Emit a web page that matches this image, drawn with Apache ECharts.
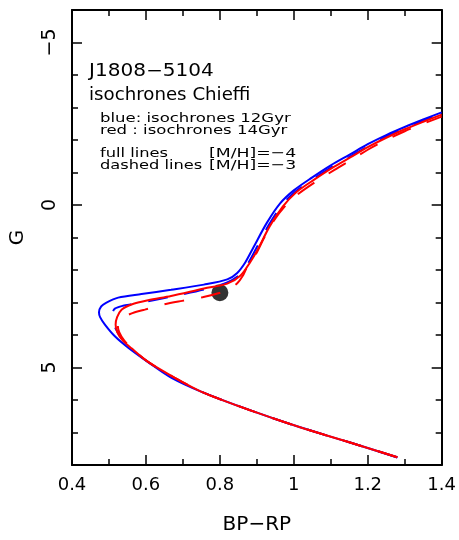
<!DOCTYPE html>
<html><head><meta charset="utf-8">
<script src="https://cdn.jsdelivr.net/npm/echarts@6/dist/echarts.min.js"></script>
<style>html,body{margin:0;padding:0;background:#fff}#c{width:459px;height:540px}</style>
</head><body><div id="c"></div>
<script>
// ---- data: [BP-RP, G] ----
const blueSolid = [[1.28,7.77],[1.15,7.30],[1.017,6.84],[0.883,6.32],[0.749,5.74],[0.668,5.31],[0.614,4.90],[0.552,4.39],[0.516,4.04],[0.489,3.68],[0.476,3.45],[0.473,3.30],[0.479,3.12],[0.492,3.01],[0.525,2.85],[0.588,2.74],[0.668,2.61],[0.757,2.45],[0.820,2.29],[0.847,2.09],[0.869,1.76],[0.891,1.30],[0.927,0.55],[0.963,-0.05],[1.000,-0.45],[1.050,-0.85],[1.100,-1.22],[1.151,-1.55],[1.200,-1.87],[1.250,-2.15],[1.300,-2.40],[1.350,-2.63],[1.400,-2.85]];
const blueDashed = [[1.28,7.76],[1.15,7.30],[1.017,6.84],[0.883,6.32],[0.749,5.74],[0.674,5.31],[0.608,4.85],[0.558,4.40],[0.534,4.10],[0.518,3.80],[0.510,3.52],[0.510,3.32],[0.516,3.19],[0.538,3.10],[0.563,3.05],[0.620,2.93],[0.680,2.79],[0.757,2.60],[0.820,2.38],[0.856,2.12],[0.878,1.76],[0.898,1.34],[0.933,0.60],[0.968,0.00],[1.003,-0.40],[1.053,-0.80],[1.103,-1.17],[1.153,-1.50],[1.200,-1.80],[1.250,-2.10],[1.300,-2.36],[1.350,-2.59],[1.400,-2.81]];
const redSolid = [[1.28,7.76],[1.15,7.30],[1.017,6.84],[0.883,6.32],[0.749,5.74],[0.677,5.31],[0.605,4.82],[0.561,4.41],[0.536,4.15],[0.522,3.90],[0.518,3.68],[0.522,3.45],[0.534,3.22],[0.561,3.06],[0.606,2.93],[0.668,2.80],[0.757,2.57],[0.820,2.42],[0.856,2.17],[0.882,1.76],[0.902,1.38],[0.935,0.65],[0.970,0.05],[1.005,-0.38],[1.055,-0.78],[1.105,-1.15],[1.155,-1.48],[1.200,-1.78],[1.250,-2.07],[1.300,-2.33],[1.350,-2.56],[1.400,-2.78]];
const redDashed = [[1.28,7.76],[1.15,7.30],[1.017,6.84],[0.883,6.32],[0.749,5.74],[0.677,5.31],[0.605,4.82],[0.561,4.41],[0.540,4.15],[0.528,3.92],[0.524,3.72],[0.527,3.58],[0.547,3.41],[0.570,3.30],[0.597,3.22],[0.648,3.06],[0.698,2.95],[0.753,2.84],[0.798,2.71],[0.825,2.58],[0.847,2.41],[0.862,2.18],[0.874,1.90],[0.896,1.54],[0.920,1.00],[0.945,0.50],[0.975,0.05],[1.010,-0.32],[1.060,-0.72],[1.110,-1.08],[1.160,-1.42],[1.200,-1.70],[1.250,-2.00],[1.300,-2.27],[1.350,-2.50],[1.400,-2.72]];
const starPoint = [[0.80, 2.70]];

const xRange = [0.4, 1.4];
const gRange = [-6, 8];
const xMajorStep = 0.2;
const gMajorTicks = [-5, 0, 5];
const titleLines = ['J1808\u22125104', 'isochrones Chieffi'];
const legendLines = ['blue: isochrones 12Gyr', 'red : isochrones 14Gyr'];
const styleLines = [['full lines', '[M/H]=\u22124'], ['dashed lines', '[M/H]=\u22123']];

const FONT = 'DejaVu Sans';
const chart = echarts.init(document.getElementById('c'), null, {renderer: 'canvas'});

function xAx(pos, showLabel) {
  return {
    type: 'value', position: pos, min: xRange[0], max: xRange[1], interval: xMajorStep,
    axisLine: {show: true, onZero: false, lineStyle: {color: '#000', width: 2}},
    axisTick: {show: true, inside: true, length: 10, lineStyle: {color: '#000', width: 1.5}},
    minorTick: {show: true, splitNumber: 2, length: 6, lineStyle: {color: '#000', width: 1.5}},
    splitLine: {show: false}, minorSplitLine: {show: false},
    axisLabel: {show: showLabel, color: '#000', fontFamily: FONT, fontSize: 18, margin: 11,
      formatter: v => String(+(+v).toFixed(1))},
    name: showLabel ? 'BP\u2212RP' : '', nameLocation: 'middle', nameGap: 50,
    nameTextStyle: {color: '#000', fontFamily: FONT, fontSize: 20}
  };
}
function yAx(pos, major, showLabel) {
  const a = {
    type: 'value', position: pos, min: gRange[0], max: gRange[1], interval: 1, inverse: true,
    axisLine: {show: !major, onZero: false, lineStyle: {color: '#000', width: 2}},
    axisTick: {show: true, inside: true, length: major ? 10 : 6, lineStyle: {color: '#000', width: 1.5}},
    splitLine: {show: false},
    axisLabel: {show: showLabel, color: '#000', fontFamily: FONT, fontSize: 19, rotate: 90, margin: 12,
      formatter: v => (gMajorTicks.indexOf(v) >= 0 ? (v < 0 ? '\u2212' + (-v) : String(v)) : '')},
  };
  if (major) a.axisTick.customValues = gMajorTicks;
  if (showLabel) {
    a.name = 'G'; a.nameLocation = 'middle'; a.nameGap = 44;
    a.nameTextStyle = {color: '#000', fontFamily: FONT, fontSize: 20};
  }
  return a;
}

function lineSeries(data, color, dashed, z) {
  return {type: 'line', data: data, xAxisIndex: 0, yAxisIndex: 0, showSymbol: false, smooth: 0.3,
    clip: true, z: z, animation: false,
    lineStyle: {color: color, width: 2, type: dashed ? [20, 17] : 'solid'}};
}

function txt(x, y, s, size, sx) {
  return {type: 'text', x: x, y: y, scaleX: sx, z: 10,
    style: {text: s, fill: '#000', font: size + 'px "' + FONT + '"', textAlign: 'left', textVerticalAlign: 'middle'}};
}

chart.setOption({
  animation: false,
  backgroundColor: '#fff',
  grid: {left: 70, right: 16, top: 10, bottom: 72, containLabel: false},
  xAxis: [xAx('bottom', true), xAx('top', false)],
  yAxis: [yAx('left', false, true), yAx('left', true, false), yAx('right', false, false), yAx('right', true, false)],
  series: [
    {type: 'scatter', data: starPoint, symbolSize: 17, itemStyle: {color: '#000'}, z: 1, animation: false},
    lineSeries(blueSolid, '#0000ff', false, 2),
    lineSeries(blueDashed, '#0000ff', true, 2),
    lineSeries(redSolid, '#ff0000', false, 3),
    lineSeries(redDashed, '#ff0000', true, 3)
  ],
  graphic: [
    txt(89, 72, titleLines[0], 17, 1.18),
    txt(89, 96, titleLines[1], 17, 1.07),
    txt(100, 119, legendLines[0], 13, 1.27),
    txt(100, 131, legendLines[1], 13, 1.27),
    txt(100, 154, styleLines[0][0], 13, 1.25),
    txt(209, 154, styleLines[0][1], 13, 1.33),
    txt(100, 166, styleLines[1][0], 13, 1.25),
    txt(209, 166, styleLines[1][1], 13, 1.33)
  ]
});
</script>
</body></html>
